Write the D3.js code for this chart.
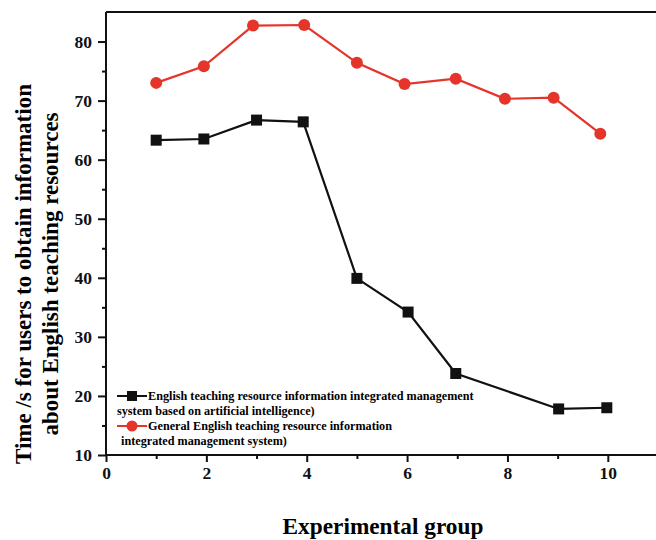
<!DOCTYPE html>
<html><head><meta charset="utf-8">
<script src="https://cdn.jsdelivr.net/npm/d3@7"></script>
<style>body{margin:0;background:#fff}svg{display:block}text{font-family:"Liberation Serif","Times New Roman",serif !important;font-weight:bold !important}</style>
</head><body>
<svg id="c" width="656" height="540"></svg>
<script>
const blackX = [1.0, 1.95, 3.0, 3.93, 5.0, 6.02, 6.97, 9.02, 9.98];
const blackY = [63.3, 63.5, 66.7, 66.4, 39.9, 34.2, 23.8, 17.8, 18.0];
const redX = [1.0, 1.95, 2.93, 3.95, 5.0, 5.95, 6.97, 7.95, 8.92, 9.85];
const redY = [73.0, 75.8, 82.7, 82.8, 76.4, 72.8, 73.7, 70.3, 70.5, 64.4];
const xTicks = [0, 2, 4, 6, 8, 10];
const yTicks = [10, 20, 30, 40, 50, 60, 70, 80];
const legend1 = ["English teaching resource information integrated management", "system based on artificial intelligence)"];
const legend2 = ["General English teaching resource information", "integrated management system)"];
const yTitle = ["Time /s for users to obtain information", "about English teaching resources"];
const xTitle = "Experimental group";

const svg = d3.select("#c");
const L = 106, T = 12, B = 455, R = 658;
const x = d3.scaleLinear().domain([0, 11]).range([L, R]);
const y = d3.scaleLinear().domain([10, 85]).range([B, T]);
const RED = "#e5342a", BLK = "#111";
const FONT = '"Liberation Serif","Times New Roman",serif';

svg.append("line").attr("x1", L).attr("x2", R).attr("y1", T).attr("y2", T).attr("stroke", BLK).attr("stroke-width", 2);

const xa = svg.append("g").attr("transform", `translate(0,${B})`)
  .call(d3.axisBottom(x).tickValues(xTicks).tickFormat(d3.format("d")).tickSize(7).tickPadding(5));
const xm = svg.append("g").attr("transform", `translate(0,${B})`)
  .call(d3.axisBottom(x).tickValues([1,3,5,7,9]).tickFormat("").tickSize(4));
xm.select(".domain").remove();
const ya = svg.append("g").attr("transform", `translate(${L},0)`)
  .call(d3.axisLeft(y).tickValues(yTicks).tickFormat(d3.format("d")).tickSize(8).tickPadding(6));
const ym = svg.append("g").attr("transform", `translate(${L},0)`)
  .call(d3.axisLeft(y).tickValues([15,25,35,45,55,65,75]).tickFormat("").tickSize(4));
ym.select(".domain").remove();
[xa, ya].forEach(g => g.attr("font-family", FONT).attr("font-size", 17).attr("font-weight", "bold"));
svg.selectAll(".domain").attr("stroke", BLK).attr("stroke-width", 2);
svg.selectAll(".tick line").attr("stroke", BLK).attr("stroke-width", 2);
svg.selectAll(".tick text").attr("fill", BLK).style("font-size", "17.5px");
xa.select(".domain").attr("d", `M${L},0H${R}`);
ya.select(".domain").attr("d", `M0,${B}V${T}`);

const line = d3.line().x(d => x(d[0])).y(d => y(d[1]));
const red = redX.map((v, i) => [v, redY[i]]);
const blk = blackX.map((v, i) => [v, blackY[i]]);
svg.append("path").datum(red).attr("d", line).attr("fill", "none").attr("stroke", RED).attr("stroke-width", 2.2);
svg.append("path").datum(blk).attr("d", line).attr("fill", "none").attr("stroke", BLK).attr("stroke-width", 2.2);
svg.selectAll(".rc").data(red).enter().append("circle").attr("cx", d => x(d[0])).attr("cy", d => y(d[1])).attr("r", 6).attr("fill", RED);
svg.selectAll(".bs").data(blk).enter().append("rect").attr("x", d => x(d[0]) - 5.5).attr("y", d => y(d[1]) - 5.5).attr("width", 11).attr("height", 11).attr("fill", BLK);

const lg = svg.append("g").style("font-size", "12.2px");
lg.append("line").attr("x1", 117).attr("x2", 147).attr("y1", 396).attr("y2", 396).attr("stroke", BLK).attr("stroke-width", 2);
lg.append("rect").attr("x", 127).attr("y", 391).attr("width", 10).attr("height", 10).attr("fill", BLK);
lg.append("text").attr("x", 148).attr("y", 400).text(legend1[0]);
lg.append("text").attr("x", 117).attr("y", 415).text(legend1[1]);
lg.append("line").attr("x1", 117).attr("x2", 147).attr("y1", 426).attr("y2", 426).attr("stroke", RED).attr("stroke-width", 2);
lg.append("circle").attr("cx", 132).attr("cy", 426).attr("r", 5.5).attr("fill", RED);
lg.append("text").attr("x", 148).attr("y", 430).text(legend2[0]);
lg.append("text").attr("x", 121).attr("y", 445).text(legend2[1]);

svg.append("text").attr("x", 383).attr("y", 534).attr("text-anchor", "middle").style("font-size", "23.3px").text(xTitle);
yTitle.forEach((t, i) => {
  svg.append("text").attr("transform", `translate(${31 + i * 27},274) rotate(-90)`).attr("text-anchor", "middle").style("font-size", "23px").text(t);
});
</script>
</body></html>
